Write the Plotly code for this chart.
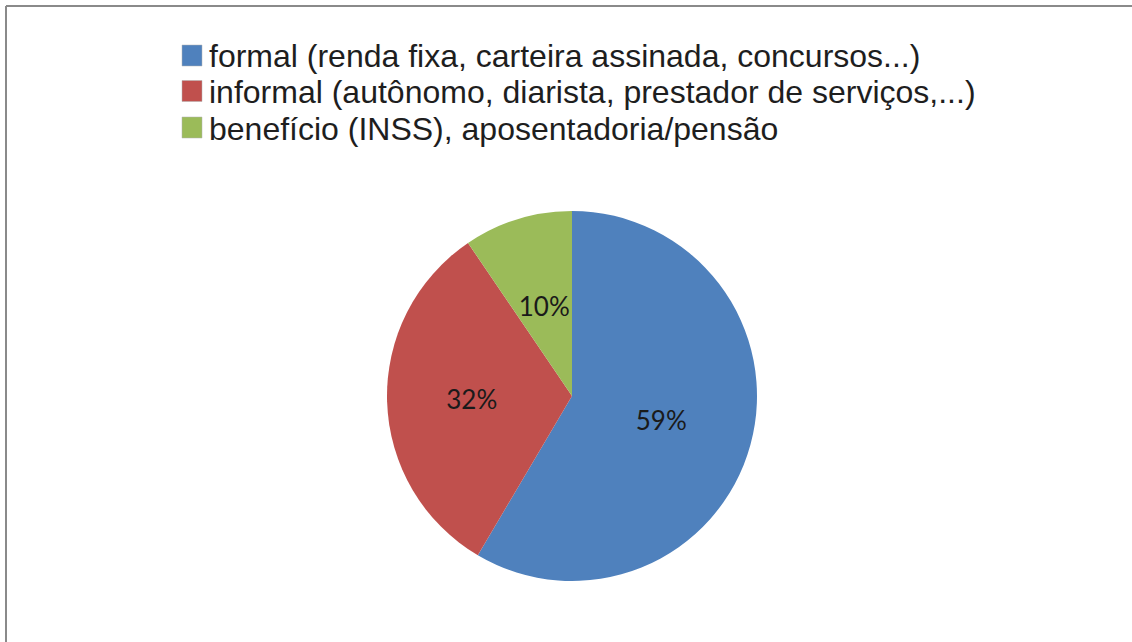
import plotly.graph_objects as go

categories = [
    "formal (renda fixa, carteira assinada, concursos...)",
    "informal (autônomo, diarista, prestador de serviços,...)",
    "benefício (INSS), aposentadoria/pensão",
]
values = [58.5, 32.0, 9.5]
value_labels = ["59%", "32%", "10%"]
colors = ["#4F81BD", "#C0504D", "#9BBB59"]

W, H = 1132, 642

def px(x):
    return x / W

def py(y):
    return 1 - y / H

cx, cy, r = 572, 396, 185
r_inner = 122

main_text = [t if i < 2 else "" for i, t in enumerate(value_labels)]
small_text = [t if i == 2 else "" for i, t in enumerate(value_labels)]

fig = go.Figure()
fig.add_trace(go.Pie(
    labels=categories,
    values=values,
    text=main_text,
    textinfo="text",
    textposition="inside",
    insidetextorientation="horizontal",
    sort=False,
    direction="clockwise",
    rotation=0,
    marker=dict(colors=colors, line=dict(width=0)),
    textfont=dict(family="Lato", size=26, color="#1a1a1a"),
    showlegend=False,
    hoverinfo="label+percent",
    domain=dict(x=[px(cx - r), px(cx + r)], y=[py(cy + r), py(cy - r)]),
))
# transparent overlay pie used only to place the small slice's label nearer the centre
fig.add_trace(go.Pie(
    labels=categories,
    values=values,
    text=small_text,
    textinfo="text",
    textposition="inside",
    insidetextorientation="horizontal",
    sort=False,
    direction="clockwise",
    rotation=0,
    marker=dict(colors=["rgba(0,0,0,0)"] * 3, line=dict(width=0)),
    textfont=dict(family="Lato", size=26, color="#1a1a1a"),
    showlegend=False,
    hoverinfo="skip",
    domain=dict(x=[px(cx - r_inner), px(cx + r_inner)], y=[py(cy + r_inner), py(cy - r_inner)]),
))

shapes = [
    dict(type="line", xref="paper", yref="paper", x0=px(6), x1=px(6), y0=py(6), y1=py(H + 5),
         line=dict(color="#8a8a8a", width=2)),
    dict(type="line", xref="paper", yref="paper", x0=px(6), x1=px(W + 5), y0=py(6), y1=py(6),
         line=dict(color="#8a8a8a", width=2)),
]
annotations = []
row_centers = [55.5, 91, 127.5]
for cat, col, yc in zip(categories, colors, row_centers):
    shapes.append(dict(type="rect", xref="paper", yref="paper",
                       x0=px(182), x1=px(202), y0=py(yc - 10.5), y1=py(yc + 10.5),
                       fillcolor=col, line=dict(color="#b0b0b0", width=0.5)))
    annotations.append(dict(text=cat, xref="paper", yref="paper", x=px(207), y=py(yc + 1),
                            xanchor="left", yanchor="middle", showarrow=False,
                            font=dict(family="Liberation Sans", size=32, color="#1e1e1e")))

fig.update_layout(
    width=W, height=H,
    margin=dict(l=0, r=0, t=0, b=0),
    paper_bgcolor="white",
    plot_bgcolor="white",
    shapes=shapes,
    annotations=annotations,
    uniformtext=dict(minsize=26, mode="show"),
)

fig.write_html("out.html")
